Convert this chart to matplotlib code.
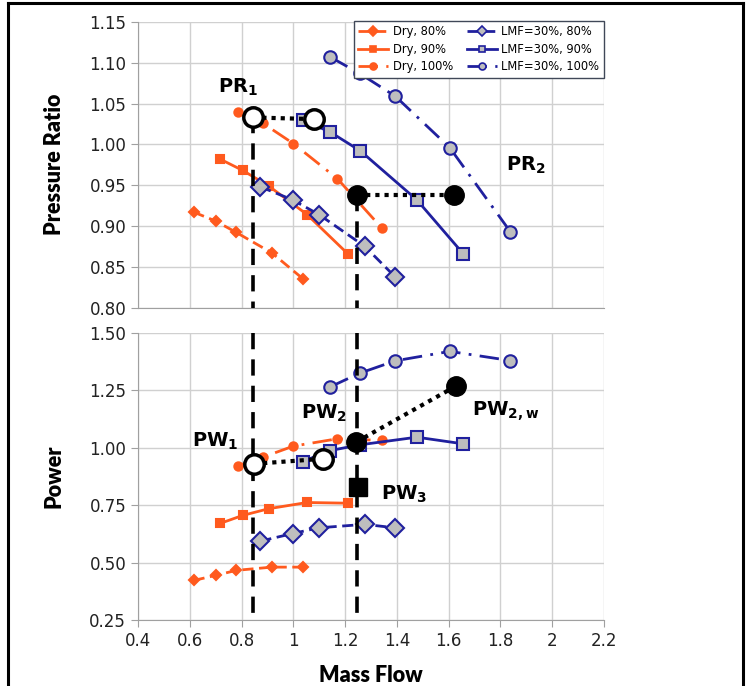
import numpy as np
import matplotlib
matplotlib.use('Agg')
import matplotlib.pyplot as plt
from matplotlib.lines import Line2D

plt.rcParams['mathtext.fontset'] = 'dejavusans'

# data
dry80_x = [0.615, 0.70, 0.78, 0.917, 1.038]
dry80_pr = [0.917, 0.906, 0.892, 0.867, 0.835]
dry80_pw = [0.424, 0.446, 0.468, 0.482, 0.482]

dry90_x = [0.717, 0.805, 0.905, 1.053, 1.21]
dry90_pr = [0.982, 0.968, 0.949, 0.914, 0.866]
dry90_pw = [0.672, 0.707, 0.736, 0.763, 0.760]

dry100_x = [0.788, 0.882, 1.0, 1.17, 1.343]
dry100_pr = [1.040, 1.026, 1.001, 0.958, 0.897]
dry100_pw = [0.923, 0.960, 1.008, 1.040, 1.033]

lmf80_x = [0.873, 0.997, 1.099, 1.276, 1.392]
lmf80_pr = [0.948, 0.932, 0.914, 0.875, 0.838]
lmf80_pw = [0.595, 0.628, 0.653, 0.668, 0.653]

lmf90_x = [1.036, 1.143, 1.259, 1.477, 1.656]
lmf90_pr = [1.030, 1.015, 0.992, 0.932, 0.866]
lmf90_pw = [0.941, 0.989, 1.014, 1.047, 1.018]

lmf100_x = [1.143, 1.256, 1.394, 1.604, 1.838]
lmf100_pr = [1.107, 1.087, 1.059, 0.996, 0.893]
lmf100_pw = [1.266, 1.325, 1.379, 1.420, 1.380]

# operating points
pr_open_x = [0.845, 1.081]
pr_open_y = [1.033, 1.031]
pr_fill_x = [1.245, 1.62]
pr_fill_y = [0.938, 0.938]
pw_open_x = [0.848, 1.114]
pw_open_y = [0.931, 0.953]
pw_fill_x = [1.243, 1.628]
pw_fill_y = [1.026, 1.269]
pw3_x, pw3_y = 1.248, 0.831
vline_x = [0.845, 1.245]

ORANGE = '#FF5A1E'
NAVY = '#20209E'
GRAYFILL = '#BEBEBE'
GRID = '#D0D0D0'
SPINE = '#A0A0A0'

fig = plt.figure(figsize=(7.47, 6.86), dpi=100)
ax1 = fig.add_axes([0.1847, 0.5517, 0.6239, 0.4162])
ax2 = fig.add_axes([0.1847, 0.0955, 0.6239, 0.4191])

dashdot = (0, (7, 3, 1, 3))
series = [
    ('Dry, 80%', dry80_x, dry80_pr, dry80_pw, ORANGE, ORANGE, 'D', 5.5, (0, (4, 2))),
    ('Dry, 90%', dry90_x, dry90_pr, dry90_pw, ORANGE, ORANGE, 's', 6, '-'),
    ('Dry, 100%', dry100_x, dry100_pr, dry100_pw, ORANGE, ORANGE, 'o', 6, dashdot),
    ('LMF=30%, 80%', lmf80_x, lmf80_pr, lmf80_pw, NAVY, GRAYFILL, 'D', 9, (0, (4, 2))),
    ('LMF=30%, 90%', lmf90_x, lmf90_pr, lmf90_pw, NAVY, GRAYFILL, 's', 9, '-'),
    ('LMF=30%, 100%', lmf100_x, lmf100_pr, lmf100_pw, NAVY, GRAYFILL, 'o', 9, dashdot),
]

handles = []
for name, xs, pr, pw, c, fc, mk, ms, ls in series:
    for ax, ys in ((ax1, pr), (ax2, pw)):
        ax.plot(xs, ys, color=c, linestyle=ls, linewidth=2, marker=mk, markersize=ms,
                markerfacecolor=fc, markeredgecolor=c, markeredgewidth=1.5, zorder=3)
    # smaller proxy for the legend, as in the original
    handles.append(Line2D([], [], color=c, linestyle=ls, linewidth=2, marker=mk,
                          markersize=5, markerfacecolor=fc, markeredgecolor=c,
                          markeredgewidth=1.2, label=name))

# vertical dashed guides
for vx, vy in zip(vline_x, [pr_open_y[0], pr_fill_y[0]]):
    ax1.plot([vx, vx], [vy, 0.80], color='black', lw=2.6, ls=(0, (4.5, 2.8)), zorder=4)
    ax2.plot([vx, vx], [1.50, 0.25], color='black', lw=2.6, ls=(0, (4.5, 2.8)), zorder=4)

# dotted links
ax1.plot(pr_open_x, pr_open_y, color='black', lw=3, ls=(0, (1, 1.2)), zorder=5)
ax1.plot(pr_fill_x, pr_fill_y, color='black', lw=3, ls=(0, (1, 1.2)), zorder=5)
ax2.plot(pw_open_x, pw_open_y, color='black', lw=3, ls=(0, (1, 1.2)), zorder=5)
ax2.plot(pw_fill_x, pw_fill_y, color='black', lw=3, ls=(0, (1, 1.2)), zorder=5)

ax1.plot(pr_open_x, pr_open_y, 'o', ms=14, mfc='white', mec='black', mew=2.5, zorder=6)
ax1.plot(pr_fill_x, pr_fill_y, 'o', ms=14, color='black', zorder=6)
ax2.plot(pw_open_x, pw_open_y, 'o', ms=14, mfc='white', mec='black', mew=2.5, zorder=6)
ax2.plot(pw_fill_x, pw_fill_y, 'o', ms=14, color='black', zorder=6)
ax2.plot([pw3_x], [pw3_y], 's', ms=13, color='black', zorder=6)

lab = dict(fontsize=14, color='black', zorder=7)
ax1.text(0.71, 1.07, r'$\mathbf{PR_1}$', ha='left', va='center', **lab)
ax1.text(1.82, 0.974, r'$\mathbf{PR_2}$', ha='left', va='center', **lab)
ax2.text(0.61, 1.03, r'$\mathbf{PW_1}$', ha='left', va='center', **lab)
ax2.text(1.03, 1.15, r'$\mathbf{PW_2}$', ha='left', va='center', **lab)
ax2.text(1.69, 1.16, r'$\mathbf{PW_{2,w}}$', ha='left', va='center', **lab)
ax2.text(1.34, 0.80, r'$\mathbf{PW_3}$', ha='left', va='center', **lab)

xt = np.arange(0.4, 2.21, 0.2)
for ax in (ax1, ax2):
    ax.set_xlim(0.4, 2.2)
    ax.set_xticks(xt)
    ax.grid(True, color=GRID, linewidth=1)
    ax.set_axisbelow(True)
    for s in ('top', 'right'):
        ax.spines[s].set_visible(False)
    for s in ('left', 'bottom'):
        ax.spines[s].set_color(SPINE)
    ax.tick_params(colors=SPINE, labelcolor='#222222', labelsize=12, length=5)

ax1.set_ylim(0.80, 1.15)
ax1.set_yticks(np.arange(0.80, 1.151, 0.05))
ax1.set_yticklabels([f'{v:.2f}' for v in np.arange(0.80, 1.151, 0.05)])
ax1.tick_params(axis='x', labelbottom=False, length=0)

ax2.set_ylim(0.25, 1.50)
ax2.set_yticks(np.arange(0.25, 1.501, 0.25))
ax2.set_yticklabels([f'{v:.2f}' for v in np.arange(0.25, 1.501, 0.25)])
ax2.set_xticklabels([f'{v:g}' for v in np.round(xt, 1)])

lbl = dict(fontsize=15.5, fontweight='heavy', family='Lato')
ax1.set_ylabel('Pressure Ratio', **lbl)
ax2.set_ylabel('Power', **lbl)
ax2.set_xlabel('Mass Flow', va='center', **lbl)
ax1.yaxis.set_label_coords(-0.157, 0.5)
ax2.yaxis.set_label_coords(-0.157, 0.5)
ax2.xaxis.set_label_coords(0.5, -0.19)

leg = ax1.legend(handles=handles, ncol=2, loc='upper right', fontsize=8.3, borderaxespad=0,
                 bbox_to_anchor=(1.0, 1.005), handlelength=2.6, columnspacing=1.2,
                 handletextpad=0.4, labelspacing=0.4, fancybox=False, framealpha=1)
leg.get_frame().set_edgecolor('#404858')
leg.get_frame().set_linewidth(1)
leg.set_zorder(8)

# outer frame
for xs, ys in (([0.011, 0.011], [0, 0.996]), ([0.995, 0.995], [0, 0.996]),
               ([0.011, 0.995], [0.996, 0.996])):
    fig.add_artist(Line2D(xs, ys, color='black', lw=2.2, transform=fig.transFigure))

fig.savefig('out.png', dpi=100)
